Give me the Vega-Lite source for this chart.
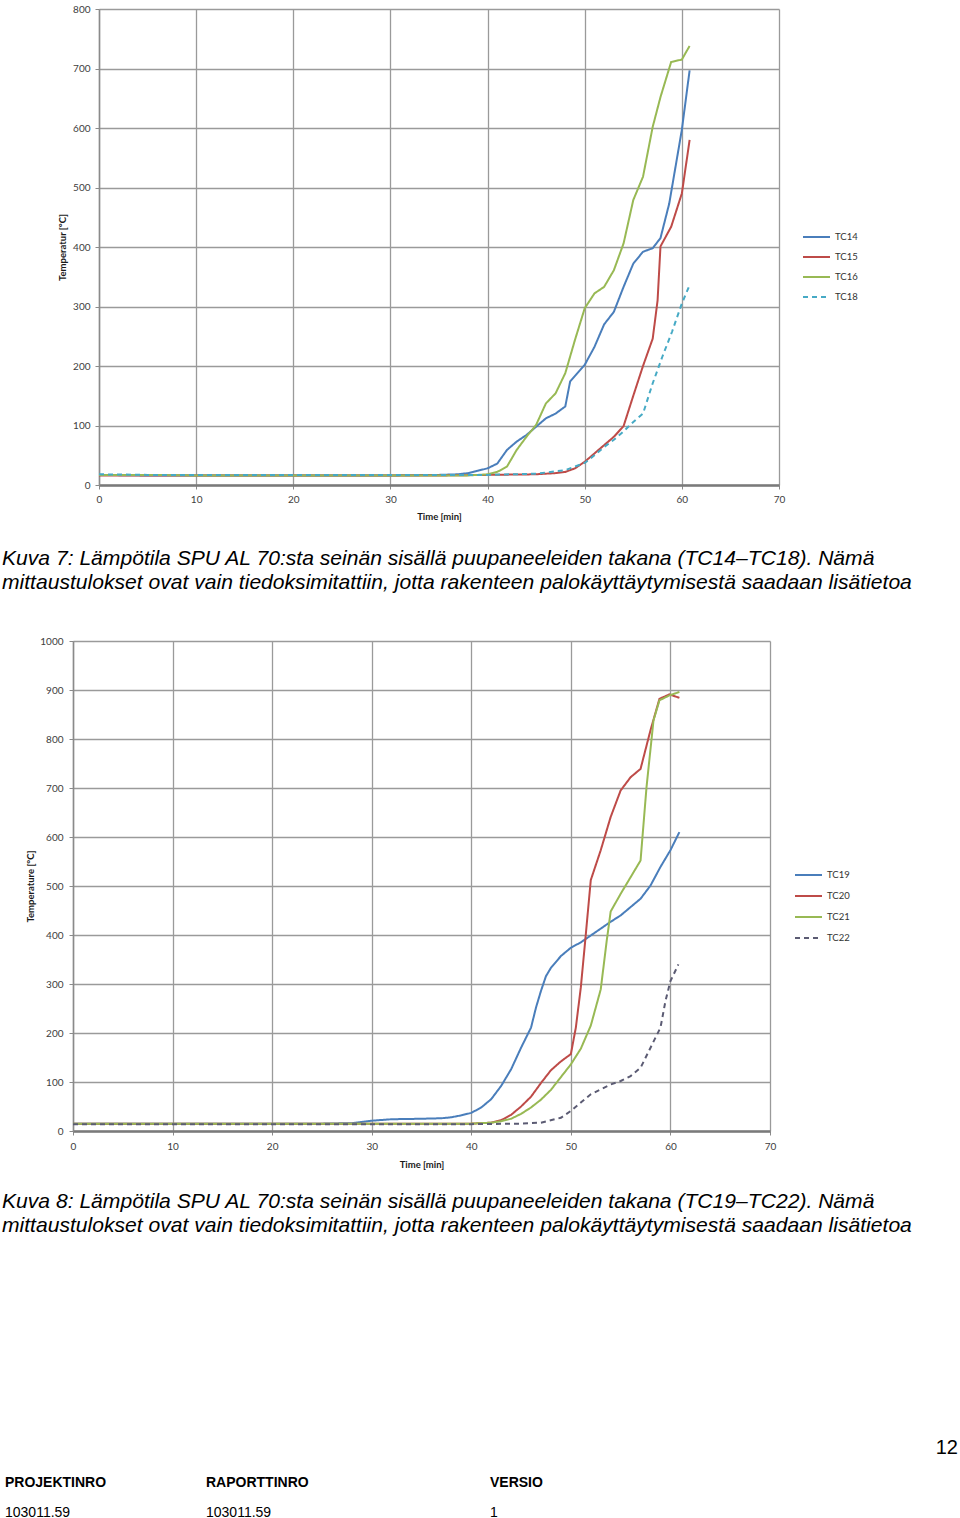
{
  "$schema": "https://vega.github.io/schema/vega-lite/v6.json",
  "padding": {"left": 1, "top": 4, "right": 0, "bottom": 0},
  "background": "white",
  "spacing": 42,
  "resolve": {"scale": {"color": "independent", "strokeDash": "independent"}, "legend": {"color": "independent", "strokeDash": "independent"}},
  "config": {
    "view": {"stroke": null},
    "font": "Liberation Sans",
    "axis": {
      "labelFont": "Lato", "labelFontSize": 10, "labelColor": "#404040", "labelFlush": false, "format": "d",
      "titleFont": "Lato", "titleFontSize": 9.5, "titleFontWeight": "bold", "titleColor": "#1a1a1a",
      "gridColor": "#9a9a9a", "gridWidth": 1.3, "tickColor": "#8a8a8a", "tickSize": 4, "domainColor": "#8a8a8a"
    },
    "axisX": {"domainWidth": 2.5, "domainColor": "#7a7a7a"},
    "axisY": {"domainWidth": 1.5},
    "legend": {
      "title": null, "symbolType": "stroke", "symbolSize": 729, "symbolStrokeWidth": 2,
      "labelFont": "Lato", "labelFontSize": 9.5, "labelColor": "#333333", "labelOffset": 4,
      "padding": 0, "rowPadding": 2
    }
  },
  "vconcat": [
    {"spacing": 0, "hconcat": [
    {"width": 1, "height": 1, "data": {"values": []}, "mark": "point"},
    {
      "width": 680,
      "height": 476,
      "title": {
        "text": ["Kuva 7: Lämpötila SPU AL 70:sta seinän sisällä puupaneeleiden takana (TC14–TC18). Nämä", "mittaustulokset ovat vain tiedoksimitattiin, jotta rakenteen palokäyttäytymisestä saadaan lisätietoa"],
        "orient": "bottom", "anchor": "start", "frame": "group", "dx": -97, "offset": 27,
        "font": "Liberation Sans", "fontSize": 21.1, "fontStyle": "italic", "fontWeight": "normal", "lineHeight": 24, "color": "#000000"
      },
      "data": {"values": [
        {"t":0,"v":17,"s":"TC14"},{"t":5,"v":16,"s":"TC14"},{"t":10,"v":16,"s":"TC14"},{"t":15,"v":16,"s":"TC14"},{"t":20,"v":16,"s":"TC14"},{"t":25,"v":16,"s":"TC14"},{"t":30,"v":16,"s":"TC14"},{"t":35,"v":17,"s":"TC14"},{"t":37,"v":18,"s":"TC14"},{"t":38,"v":20,"s":"TC14"},{"t":39,"v":24,"s":"TC14"},{"t":40,"v":28,"s":"TC14"},{"t":41,"v":36,"s":"TC14"},{"t":42,"v":59,"s":"TC14"},{"t":43,"v":73,"s":"TC14"},{"t":44,"v":84,"s":"TC14"},{"t":45,"v":98,"s":"TC14"},{"t":46,"v":112,"s":"TC14"},{"t":47,"v":120,"s":"TC14"},{"t":48,"v":132,"s":"TC14"},{"t":48.5,"v":174,"s":"TC14"},{"t":50,"v":202,"s":"TC14"},{"t":51,"v":232,"s":"TC14"},{"t":52,"v":270,"s":"TC14"},{"t":53,"v":291,"s":"TC14"},{"t":54,"v":333,"s":"TC14"},{"t":55,"v":372,"s":"TC14"},{"t":56,"v":392,"s":"TC14"},{"t":57,"v":398,"s":"TC14"},{"t":57.8,"v":415,"s":"TC14"},{"t":58.7,"v":473,"s":"TC14"},{"t":60,"v":597,"s":"TC14"},{"t":60.8,"v":697,"s":"TC14"},
        {"t":0,"v":16,"s":"TC15"},{"t":5,"v":16,"s":"TC15"},{"t":10,"v":16,"s":"TC15"},{"t":15,"v":16,"s":"TC15"},{"t":20,"v":16,"s":"TC15"},{"t":25,"v":16,"s":"TC15"},{"t":30,"v":16,"s":"TC15"},{"t":35,"v":16,"s":"TC15"},{"t":40,"v":17,"s":"TC15"},{"t":45,"v":18,"s":"TC15"},{"t":47,"v":20,"s":"TC15"},{"t":48,"v":22,"s":"TC15"},{"t":49,"v":28,"s":"TC15"},{"t":50,"v":39,"s":"TC15"},{"t":51,"v":53,"s":"TC15"},{"t":52,"v":67,"s":"TC15"},{"t":53,"v":81,"s":"TC15"},{"t":54,"v":99,"s":"TC15"},{"t":55,"v":150,"s":"TC15"},{"t":56,"v":200,"s":"TC15"},{"t":57,"v":246,"s":"TC15"},{"t":57.5,"v":310,"s":"TC15"},{"t":57.8,"v":401,"s":"TC15"},{"t":58.9,"v":434,"s":"TC15"},{"t":60,"v":490,"s":"TC15"},{"t":60.8,"v":580,"s":"TC15"},
        {"t":0,"v":17,"s":"TC16"},{"t":5,"v":17,"s":"TC16"},{"t":10,"v":16,"s":"TC16"},{"t":15,"v":16,"s":"TC16"},{"t":20,"v":16,"s":"TC16"},{"t":25,"v":16,"s":"TC16"},{"t":30,"v":16,"s":"TC16"},{"t":35,"v":16,"s":"TC16"},{"t":38,"v":16,"s":"TC16"},{"t":40,"v":18,"s":"TC16"},{"t":41,"v":22,"s":"TC16"},{"t":42,"v":31,"s":"TC16"},{"t":43,"v":59,"s":"TC16"},{"t":44,"v":81,"s":"TC16"},{"t":45,"v":101,"s":"TC16"},{"t":46,"v":137,"s":"TC16"},{"t":47,"v":154,"s":"TC16"},{"t":48,"v":188,"s":"TC16"},{"t":49,"v":244,"s":"TC16"},{"t":50,"v":297,"s":"TC16"},{"t":51,"v":322,"s":"TC16"},{"t":52,"v":333,"s":"TC16"},{"t":53,"v":361,"s":"TC16"},{"t":54,"v":406,"s":"TC16"},{"t":55,"v":479,"s":"TC16"},{"t":56,"v":518,"s":"TC16"},{"t":57,"v":602,"s":"TC16"},{"t":57.8,"v":652,"s":"TC16"},{"t":58.9,"v":711,"s":"TC16"},{"t":60,"v":715,"s":"TC16"},{"t":60.8,"v":738,"s":"TC16"},
        {"t":0,"v":18,"s":"TC18"},{"t":5,"v":17,"s":"TC18"},{"t":10,"v":17,"s":"TC18"},{"t":15,"v":17,"s":"TC18"},{"t":20,"v":17,"s":"TC18"},{"t":25,"v":17,"s":"TC18"},{"t":30,"v":17,"s":"TC18"},{"t":35,"v":17,"s":"TC18"},{"t":40,"v":17,"s":"TC18"},{"t":45,"v":19,"s":"TC18"},{"t":48,"v":25,"s":"TC18"},{"t":50,"v":37,"s":"TC18"},{"t":51,"v":50,"s":"TC18"},{"t":52,"v":64,"s":"TC18"},{"t":53,"v":76,"s":"TC18"},{"t":54,"v":90,"s":"TC18"},{"t":55,"v":106,"s":"TC18"},{"t":56,"v":120,"s":"TC18"},{"t":57,"v":171,"s":"TC18"},{"t":58,"v":216,"s":"TC18"},{"t":59,"v":258,"s":"TC18"},{"t":60,"v":305,"s":"TC18"},{"t":60.8,"v":336,"s":"TC18"}
      ]},
      "mark": {"type": "line", "strokeWidth": 2},
      "encoding": {
        "x": {"field": "t", "type": "quantitative", "scale": {"domain": [0, 70], "nice": false},
              "axis": {"values": [0,10,20,30,40,50,60,70], "title": "Time [min]", "labelPadding": 5, "titlePadding": 7.5}},
        "y": {"field": "v", "type": "quantitative", "scale": {"domain": [0, 800], "nice": false},
              "axis": {"values": [0,100,200,300,400,500,600,700,800], "title": "Temperatur [°C]", "labelPadding": 5, "titlePadding": 5}},
        "color": {"field": "s", "type": "nominal",
                  "scale": {"domain": ["TC14","TC15","TC16","TC18"], "range": ["#4a7ebb","#be4b48","#98b954","#46aac5"]},
                  "legend": {"orient": "none", "legendX": 801, "legendY": 219, "clipHeight": 18}},
        "strokeDash": {"field": "s", "type": "nominal",
                  "scale": {"domain": ["TC14","TC15","TC16","TC18"], "range": [[1,0],[1,0],[1,0],[5,4]]},
                  "legend": {"orient": "none", "legendX": 801, "legendY": 219, "clipHeight": 18}}
      }
    }]},
    {"spacing": 0, "hconcat": [
    {"width": 1, "height": 1, "data": {"values": []}, "mark": "point"},
    {
      "width": 697,
      "height": 490,
      "title": {
        "text": ["Kuva 8: Lämpötila SPU AL 70:sta seinän sisällä puupaneeleiden takana (TC19–TC22). Nämä", "mittaustulokset ovat vain tiedoksimitattiin, jotta rakenteen palokäyttäytymisestä saadaan lisätietoa"],
        "orient": "bottom", "anchor": "start", "frame": "group", "dx": -71, "offset": 21.5,
        "font": "Liberation Sans", "fontSize": 21.1, "fontStyle": "italic", "fontWeight": "normal", "lineHeight": 24, "color": "#000000"
      },
      "data": {"values": [
        {"t":0,"v":15,"s":"TC19"},{"t":5,"v":15,"s":"TC19"},{"t":10,"v":15,"s":"TC19"},{"t":15,"v":15,"s":"TC19"},{"t":20,"v":15,"s":"TC19"},{"t":25,"v":15,"s":"TC19"},{"t":28,"v":16,"s":"TC19"},{"t":30,"v":21,"s":"TC19"},{"t":32,"v":24,"s":"TC19"},{"t":35,"v":25,"s":"TC19"},{"t":37,"v":26,"s":"TC19"},{"t":38,"v":28,"s":"TC19"},{"t":39,"v":32,"s":"TC19"},{"t":40,"v":37,"s":"TC19"},{"t":41,"v":48,"s":"TC19"},{"t":42,"v":65,"s":"TC19"},{"t":43,"v":92,"s":"TC19"},{"t":44,"v":126,"s":"TC19"},{"t":45,"v":170,"s":"TC19"},{"t":46,"v":211,"s":"TC19"},{"t":46.5,"v":252,"s":"TC19"},{"t":47,"v":286,"s":"TC19"},{"t":47.5,"v":316,"s":"TC19"},{"t":48,"v":333,"s":"TC19"},{"t":49,"v":357,"s":"TC19"},{"t":50,"v":374,"s":"TC19"},{"t":51,"v":385,"s":"TC19"},{"t":52,"v":399,"s":"TC19"},{"t":53,"v":413,"s":"TC19"},{"t":54,"v":427,"s":"TC19"},{"t":55,"v":440,"s":"TC19"},{"t":56,"v":457,"s":"TC19"},{"t":57,"v":474,"s":"TC19"},{"t":58,"v":501,"s":"TC19"},{"t":59,"v":539,"s":"TC19"},{"t":60,"v":573,"s":"TC19"},{"t":60.9,"v":610,"s":"TC19"},
        {"t":0,"v":15,"s":"TC20"},{"t":10,"v":15,"s":"TC20"},{"t":20,"v":15,"s":"TC20"},{"t":30,"v":15,"s":"TC20"},{"t":40,"v":15,"s":"TC20"},{"t":42,"v":17,"s":"TC20"},{"t":43,"v":22,"s":"TC20"},{"t":44,"v":33,"s":"TC20"},{"t":45,"v":50,"s":"TC20"},{"t":46,"v":70,"s":"TC20"},{"t":47,"v":98,"s":"TC20"},{"t":48,"v":124,"s":"TC20"},{"t":49,"v":142,"s":"TC20"},{"t":50,"v":157,"s":"TC20"},{"t":50.5,"v":211,"s":"TC20"},{"t":51,"v":293,"s":"TC20"},{"t":51.5,"v":401,"s":"TC20"},{"t":52,"v":512,"s":"TC20"},{"t":53,"v":573,"s":"TC20"},{"t":54,"v":641,"s":"TC20"},{"t":55,"v":695,"s":"TC20"},{"t":56,"v":722,"s":"TC20"},{"t":57,"v":739,"s":"TC20"},{"t":58,"v":818,"s":"TC20"},{"t":58.9,"v":882,"s":"TC20"},{"t":59.9,"v":891,"s":"TC20"},{"t":60.9,"v":884,"s":"TC20"},
        {"t":0,"v":15,"s":"TC21"},{"t":10,"v":15,"s":"TC21"},{"t":20,"v":15,"s":"TC21"},{"t":30,"v":15,"s":"TC21"},{"t":40,"v":15,"s":"TC21"},{"t":42,"v":17,"s":"TC21"},{"t":43,"v":20,"s":"TC21"},{"t":44,"v":25,"s":"TC21"},{"t":45,"v":35,"s":"TC21"},{"t":46,"v":48,"s":"TC21"},{"t":47,"v":64,"s":"TC21"},{"t":48,"v":84,"s":"TC21"},{"t":49,"v":110,"s":"TC21"},{"t":50,"v":136,"s":"TC21"},{"t":51,"v":168,"s":"TC21"},{"t":52,"v":215,"s":"TC21"},{"t":53,"v":289,"s":"TC21"},{"t":53.6,"v":388,"s":"TC21"},{"t":54,"v":448,"s":"TC21"},{"t":55,"v":484,"s":"TC21"},{"t":56,"v":518,"s":"TC21"},{"t":57,"v":552,"s":"TC21"},{"t":57.6,"v":702,"s":"TC21"},{"t":58.3,"v":838,"s":"TC21"},{"t":58.9,"v":879,"s":"TC21"},{"t":59.9,"v":889,"s":"TC21"},{"t":60.9,"v":896,"s":"TC21"},
        {"t":0,"v":14,"s":"TC22"},{"t":5,"v":14,"s":"TC22"},{"t":10,"v":14,"s":"TC22"},{"t":15,"v":14,"s":"TC22"},{"t":20,"v":14,"s":"TC22"},{"t":25,"v":14,"s":"TC22"},{"t":30,"v":14,"s":"TC22"},{"t":35,"v":14,"s":"TC22"},{"t":40,"v":14,"s":"TC22"},{"t":45,"v":15,"s":"TC22"},{"t":47,"v":17,"s":"TC22"},{"t":49,"v":27,"s":"TC22"},{"t":50,"v":41,"s":"TC22"},{"t":51,"v":58,"s":"TC22"},{"t":52,"v":75,"s":"TC22"},{"t":53,"v":85,"s":"TC22"},{"t":54,"v":95,"s":"TC22"},{"t":55,"v":102,"s":"TC22"},{"t":56,"v":112,"s":"TC22"},{"t":57,"v":129,"s":"TC22"},{"t":58,"v":170,"s":"TC22"},{"t":59,"v":211,"s":"TC22"},{"t":59.5,"v":265,"s":"TC22"},{"t":60,"v":306,"s":"TC22"},{"t":60.8,"v":340,"s":"TC22"}
      ]},
      "mark": {"type": "line", "strokeWidth": 2},
      "encoding": {
        "x": {"field": "t", "type": "quantitative", "scale": {"domain": [0, 70], "nice": false},
              "axis": {"values": [0,10,20,30,40,50,60,70], "title": "Time [min]", "labelPadding": 6.5, "titlePadding": 8}},
        "y": {"field": "v", "type": "quantitative", "scale": {"domain": [0, 1000], "nice": false},
              "axis": {"values": [0,100,200,300,400,500,600,700,800,900,1000], "title": "Temperature [°C]", "labelPadding": 6, "titlePadding": 4.5}},
        "color": {"field": "s", "type": "nominal",
                  "scale": {"domain": ["TC19","TC20","TC21","TC22"], "range": ["#4a7ebb","#be4b48","#98b954","#5b5b73"]},
                  "legend": {"orient": "none", "legendX": 793, "legendY": 224.5, "clipHeight": 19}},
        "strokeDash": {"field": "s", "type": "nominal",
                  "scale": {"domain": ["TC19","TC20","TC21","TC22"], "range": [[1,0],[1,0],[1,0],[5,4]]},
                  "legend": {"orient": "none", "legendX": 793, "legendY": 224.5, "clipHeight": 19}}
      }
    }]},
    {
      "spacing": 0,
      "hconcat": [
        {
          "width": 205, "height": 150,
          "data": {"values": []},
          "mark": "point",
          "title": {"text": "PROJEKTINRO", "subtitle": "103011.59", "orient": "bottom", "anchor": "start", "frame": "group", "offset": 48, "dx": 4,
                    "font": "Liberation Sans", "fontSize": 14, "fontWeight": "bold", "color": "#000000",
                    "subtitleFont": "Liberation Sans", "subtitleFontSize": 14, "subtitleFontWeight": "normal", "subtitleColor": "#000000", "subtitlePadding": 16}
        },
        {
          "width": 284, "height": 150,
          "data": {"values": []},
          "mark": "point",
          "title": {"text": "RAPORTTINRO", "subtitle": "103011.59", "orient": "bottom", "anchor": "start", "frame": "group", "offset": 48,
                    "font": "Liberation Sans", "fontSize": 14, "fontWeight": "bold", "color": "#000000",
                    "subtitleFont": "Liberation Sans", "subtitleFontSize": 14, "subtitleFontWeight": "normal", "subtitleColor": "#000000", "subtitlePadding": 16}
        },
        {
          "width": 200, "height": 150,
          "data": {"values": []},
          "mark": "point",
          "title": {"text": "VERSIO", "subtitle": "1", "orient": "bottom", "anchor": "start", "frame": "group", "offset": 48,
                    "font": "Liberation Sans", "fontSize": 14, "fontWeight": "bold", "color": "#000000",
                    "subtitleFont": "Liberation Sans", "subtitleFontSize": 14, "subtitleFontWeight": "normal", "subtitleColor": "#000000", "subtitlePadding": 16}
        },
        {
          "width": 268, "height": 150,
          "data": {"values": []},
          "mark": "point",
          "title": {"text": "12", "orient": "bottom", "anchor": "end", "frame": "group", "offset": 10,
                    "font": "Liberation Sans", "fontSize": 20, "fontWeight": "normal", "color": "#000000"}
        }
      ]
    }
  ]
}
